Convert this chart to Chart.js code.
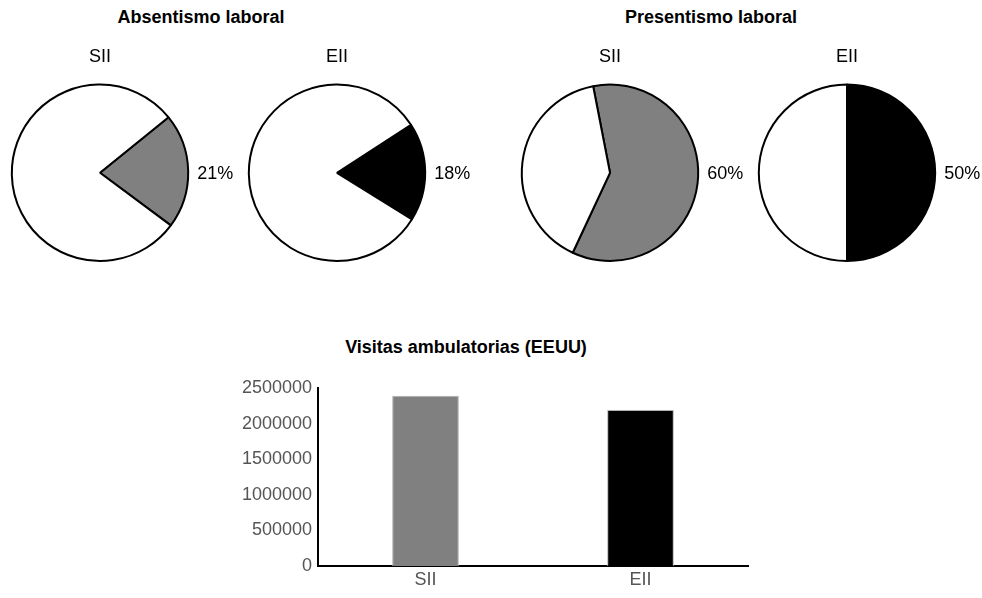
<!DOCTYPE html>
<html>
<head>
<meta charset="utf-8">
<script src="https://cdn.jsdelivr.net/npm/chart.js@4"></script>
<style>
  html, body { margin:0; padding:0; background:#fff; }
  body { width:982px; height:598px; position:relative; overflow:hidden; font-family:"Liberation Sans", Arial, Helvetica, sans-serif; }
  .grp-title { position:absolute; transform:translateX(-50%); font-weight:bold; font-size:18px; line-height:20px; color:#000; white-space:nowrap; }
  canvas { position:absolute; }
</style>
</head>
<body>
<div class="grp-title" style="left:201px;top:7px">Absentismo laboral</div>
<div class="grp-title" style="left:711px;top:7px">Presentismo laboral</div>
<div class="grp-title" style="left:466px;top:337px">Visitas ambulatorias (EEUU)</div>

<canvas id="pie-0" width="250" height="232"></canvas>
<canvas id="pie-1" width="250" height="232"></canvas>
<canvas id="pie-2" width="250" height="232"></canvas>
<canvas id="pie-3" width="250" height="232"></canvas>
<canvas id="bar" width="540" height="228"></canvas>

<script>
/* ---- data ---- */
const pieLabels    = ['SII', 'EII'];
const absentismo   = [21, 18];   // % SII, EII
const presentismo  = [60, 50];   // % SII, EII
const barLabels    = ['SII', 'EII'];
const visitas      = [2390000, 2190000];
const yTicks       = [0, 500000, 1000000, 1500000, 2000000, 2500000];

const GRAY = '#808080', BLACK = '#000000';
const FONT = '"Liberation Sans", Arial, Helvetica, sans-serif';

/* draws the "21%" label to the right of each pie */
const pctLabel = {
  id: 'pctLabel',
  afterDraw(chart) {
    const arc = chart.getDatasetMeta(0).data[0];
    if (!arc) return;
    const ctx = chart.ctx;
    ctx.save();
    ctx.font = '18px ' + FONT;
    ctx.fillStyle = '#000';
    ctx.textAlign = 'left';
    ctx.textBaseline = 'middle';
    ctx.fillText(chart.data.datasets[0].data[0] + '%', arc.x + arc.outerRadius + 9, arc.y + 1);
    ctx.restore();
  }
};

/* pie positions (centre x) and starting angles */
const pies = [
  { cx: 100, value: absentismo[0],  label: pieLabels[0], color: GRAY,  rotation: 51 },
  { cx: 337, value: absentismo[1],  label: pieLabels[1], color: BLACK, rotation: 57 },
  { cx: 610, value: presentismo[0], label: pieLabels[0], color: GRAY,  rotation: -11 },
  { cx: 847, value: presentismo[1], label: pieLabels[1], color: BLACK, rotation: 0 }
];

pies.forEach((p, i) => {
  const el = document.getElementById('pie-' + i);
  el.style.left = (p.cx - 100) + 'px';
  el.style.top  = '40px';
  new Chart(el, {
    type: 'pie',
    data: {
      labels: [p.label, ''],
      datasets: [{
        data: [p.value, 100 - p.value],
        backgroundColor: [p.color, '#ffffff'],
        borderColor: '#000',
        borderWidth: 2
      }]
    },
    options: {
      responsive: false,
      animation: false,
      rotation: p.rotation,
      layout: { padding: { left: 10, right: 60, top: 0, bottom: 10 } },
      plugins: {
        legend: { display: false },
        tooltip: { enabled: false },
        title: {
          display: true,
          text: p.label,
          color: '#000',
          font: { family: FONT, size: 18, weight: 'normal', lineHeight: 1.2 },
          padding: { top: 6, bottom: 16 }
        }
      }
    },
    plugins: [pctLabel]
  });
});

/* ---- bar chart ---- */
const barEl = document.getElementById('bar');
barEl.style.left = '220px';
barEl.style.top  = '370px';
new Chart(barEl, {
  type: 'bar',
  data: {
    labels: barLabels,
    datasets: [{
      data: visitas,
      backgroundColor: [GRAY, BLACK],
      borderColor: '#b0b0b0',
      borderWidth: 1,
      barPercentage: 0.31,
      categoryPercentage: 1
    }]
  },
  options: {
    responsive: false,
    animation: false,
    layout: { padding: { top: 18, right: 12, left: 0, bottom: 0 } },
    plugins: { legend: { display: false }, tooltip: { enabled: false } },
    scales: {
      x: {
        grid: { display: false, drawTicks: false },
        border: { color: '#000', width: 2 },
        ticks: { color: '#555', font: { family: FONT, size: 18 }, padding: 3 },
        afterFit(s) { s.height = 32; }
      },
      y: {
        min: 0,
        max: yTicks[yTicks.length - 1],
        afterBuildTicks(s) { s.ticks = yTicks.map(v => ({ value: v })); },
        grid: { display: false, drawTicks: false },
        border: { color: '#000', width: 2 },
        ticks: { color: '#555', font: { family: FONT, size: 18 }, padding: 6, callback: v => String(v) },
        afterFit(s) { s.width = 98; }
      }
    }
  }
});
</script>
</body>
</html>
